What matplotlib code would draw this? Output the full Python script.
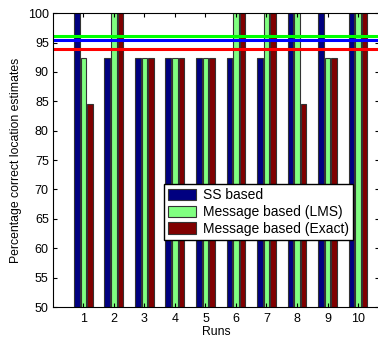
import numpy as np
import matplotlib.pyplot as plt

plt.rcParams['font.family'] = ['Liberation Sans', 'DejaVu Sans']

runs = np.arange(1, 11)
ss_based = [100, 92.31, 92.31, 92.31, 92.31, 92.31, 92.31, 100, 100, 100]
msg_lms = [92.31, 100, 92.31, 92.31, 92.31, 100, 100, 100, 92.31, 100]
msg_exact = [84.62, 100, 92.31, 92.31, 92.31, 100, 100, 84.62, 92.31, 100]
labels = ['SS based', 'Message based (LMS)', 'Message based (Exact)']

# mean lines
mean_ss = 95.38
mean_lms = 96.15
mean_exact = 93.85

fig = plt.figure(figsize=(3.78, 3.37), dpi=100)
ax = fig.add_axes([0.140, 0.089, 0.862, 0.872])

w = 0.19
off = 0.215
ec = '#333333'
ax.bar(runs - off, ss_based, w, color='#000080', edgecolor=ec, linewidth=0.8, label=labels[0])
ax.bar(runs, msg_lms, w, color='#80FF80', edgecolor=ec, linewidth=0.8, label=labels[1])
ax.bar(runs + off, msg_exact, w, color='#800000', edgecolor=ec, linewidth=0.8, label=labels[2])

ax.axhline(mean_lms, color='#00FF00', linewidth=2.2)
ax.axhline(mean_ss, color='#0000FF', linewidth=2.2)
ax.axhline(mean_exact, color='#FF0000', linewidth=2.2)

ax.set_xlim(0, 10.68)
ax.set_ylim(50, 100)
ax.set_xticks(runs)
ax.set_yticks(np.arange(50, 101, 5))
ax.tick_params(direction='in', top=True, right=True, labelsize=9, length=3)
ax.tick_params(axis='x', pad=4)
ax.tick_params(axis='y', pad=3)
ax.set_xlabel('Runs', fontsize=8.8, labelpad=1)
ax.set_ylabel('Percentage correct location estimates', fontsize=8.8, labelpad=4)

leg = ax.legend(loc='lower right', bbox_to_anchor=(0.92, 0.228), fontsize=10,
                fancybox=False, framealpha=1, edgecolor='black',
                handlelength=2.0, handleheight=0.9, borderpad=0.3,
                labelspacing=0.2, handletextpad=0.5, borderaxespad=0)
leg.get_frame().set_linewidth(1.0)

fig.savefig('out.png', dpi=100)
